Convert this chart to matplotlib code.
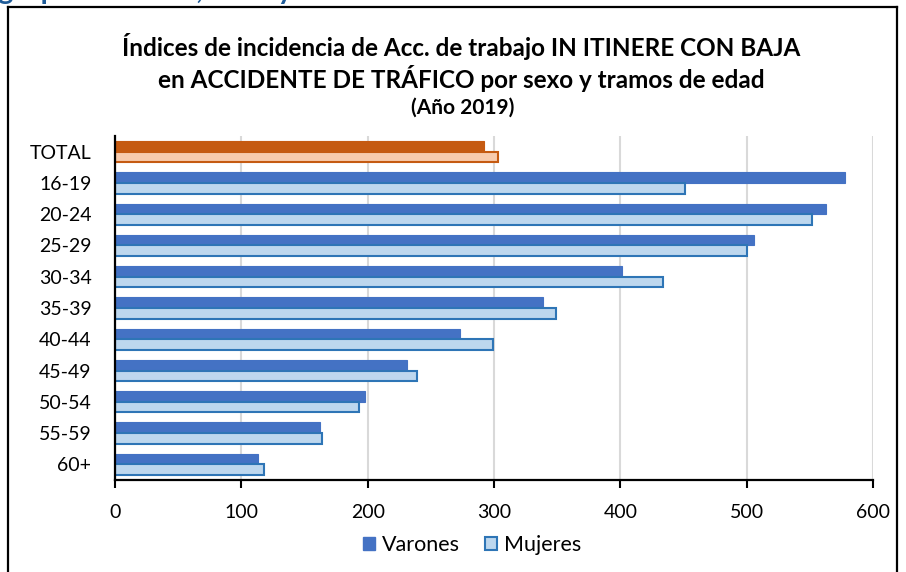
import matplotlib
matplotlib.use("Agg")
import matplotlib.pyplot as plt
from matplotlib.lines import Line2D
from matplotlib.patches import Patch
import numpy as np

plt.rcParams["font.family"] = ["Lato", "DejaVu Sans"]

categories = ["TOTAL", "16-19", "20-24", "25-29", "30-34", "35-39",
              "40-44", "45-49", "50-54", "55-59", "60+"]
varones = [292, 578, 563, 506, 401, 339, 273, 231, 198, 162, 113]
mujeres = [303, 451, 552, 500, 434, 349, 299, 239, 193, 164, 118]
xticks = [0, 100, 200, 300, 400, 500, 600]

BLUE = "#4472C4"
LIGHT_BLUE = "#BDD7EE"
BLUE_EDGE = "#2E75B6"
ORANGE = "#C55A11"
LIGHT_ORANGE = "#F8CBAD"

W, H = 906, 572
fig = plt.figure(figsize=(W / 100, H / 100), dpi=100)

# outer frame of the chart box
frame = dict(color="black", lw=1.6, transform=fig.transFigure, clip_on=False)
x0, x1, ytop = 8 / W, 897 / W, 1 - 7 / H
fig.add_artist(Line2D([x0, x0], [0, ytop], **frame))
fig.add_artist(Line2D([x0, x1], [ytop, ytop], **frame))
fig.add_artist(Line2D([x1, x1], [0, ytop], **frame))

# heading above the chart box, mostly cut off by the page edge
fig.text(-0.002, 1 + 1.5 / H, "grupos de edad, sexo y", color="#1F5C99",
         fontsize=21, fontweight="bold", va="baseline", ha="left")

ax = fig.add_axes([115 / W, 1 - 480 / H, 758 / W, 344 / H])

y = np.arange(len(categories))
h = 0.34
v_col = [ORANGE] + [BLUE] * (len(categories) - 1)
m_col = [LIGHT_ORANGE] + [LIGHT_BLUE] * (len(categories) - 1)
m_edge = [ORANGE] + [BLUE_EDGE] * (len(categories) - 1)

ax.barh(y - h / 2, varones, height=h, color=v_col, edgecolor=v_col,
        linewidth=0.8, zorder=3)
ax.barh(y + h / 2, mujeres, height=h, color=m_col, edgecolor=m_edge,
        linewidth=1.5, zorder=3)

ax.set_xlim(0, 600)
ax.set_ylim(len(categories) - 0.5, -0.5)
ax.set_xticks(xticks)
ax.set_xticklabels([str(t) for t in xticks], fontsize=14)
ax.set_yticks(y)
ax.set_yticklabels(categories, fontsize=14)
ax.tick_params(axis="y", length=0, pad=17)
ax.tick_params(axis="x", length=6, width=1.5, direction="out", pad=11)

ax.grid(axis="x", color="#D9D9D9", lw=1.5, zorder=0)
for s in ["top", "right"]:
    ax.spines[s].set_visible(False)
ax.spines["left"].set_linewidth(1.6)
ax.spines["bottom"].set_linewidth(1.6)
ax.spines["left"].set_zorder(4)

fig.text(461 / W, 1 - 46 / H,
         "Índices de incidencia de Acc. de trabajo IN ITINERE CON BAJA",
         ha="center", va="center", fontsize=17.5, fontweight="bold")
fig.text(461 / W, 1 - 78 / H,
         "en ACCIDENTE DE TRÁFICO por sexo y tramos de edad",
         ha="center", va="center", fontsize=17.5, fontweight="bold")
fig.text(463 / W, 1 - 108 / H, "(Año 2019)",
         ha="center", va="center", fontsize=15, fontweight="bold")

handles = [Patch(facecolor=BLUE, edgecolor=BLUE, label="Varones"),
           Patch(facecolor=LIGHT_BLUE, edgecolor=BLUE_EDGE, lw=1.5,
                 label="Mujeres")]
fig.legend(handles=handles, loc="center", bbox_to_anchor=(472 / W, 1 - 545 / H),
           ncol=2, frameon=False, fontsize=15.5, handlelength=0.55,
           handleheight=0.55, handletextpad=0.3, columnspacing=1.2)

fig.savefig("out.png", dpi=100)
